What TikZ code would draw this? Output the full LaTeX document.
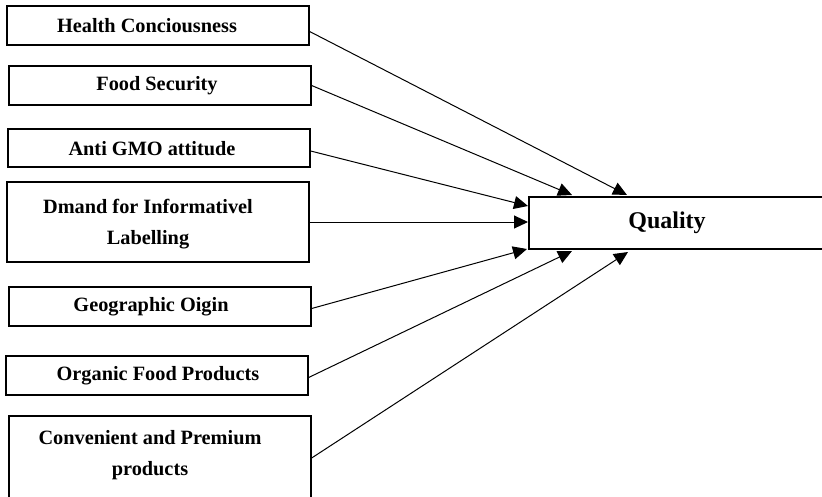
\documentclass[tikz,border=0pt]{standalone}
\usepackage{fontspec}
\setmainfont{Liberation Serif}
\usetikzlibrary{arrows.meta}
\begin{document}
\begin{tikzpicture}[x=1pt,y=-1pt,
  factor/.style={draw, line width=1.3pt, inner sep=0pt, minimum width=302pt},
  ftext/.style={inner sep=0pt, align=center, font=\bfseries\fontsize{20.3}{31}\selectfont},
  target/.style={draw, line width=2pt, inner sep=0pt, minimum width=300pt, minimum height=52pt},
  link/.style={line width=1pt, -{Triangle[length=14pt,width=13pt]}}]
\useasboundingbox (0,0) rectangle (822,496);
\clip (0,0) rectangle (822,496);
\node[factor, minimum height=39pt] (hc) at (158,25.5) {};
\node[ftext] (hct) at (147,26) {Health Conciousness};
\node[factor, minimum height=39pt] (fs) at (160,85.5) {};
\node[ftext] (fst) at (157,86) {Food Security};
\node[factor, minimum height=38pt] (ag) at (159,148) {};
\node[ftext] (agt) at (152,149) {Anti GMO attitude};
\node[factor, minimum height=80pt] (di) at (158,222) {};
\node[ftext] (dit) at (148,224) {Dmand for Informativel\\Labelling};
\node[factor, minimum height=39pt] (go) at (160,306.5) {};
\node[ftext] (got) at (151,307) {Geographic Oigin};
\node[factor, minimum height=39pt] (of) at (157,375.5) {};
\node[ftext] (oft) at (158,376) {Organic Food Products};
\node[factor, minimum height=84pt] (cp) at (160,458) {};
\node[ftext] (cpt) at (150,455) {Convenient and Premium\\products};
\node[target] (q) at (679,223) {};
\node[inner sep=0pt, font=\bfseries\fontsize{24}{28}\selectfont] (ql) at (667,223) {Quality};
\coordinate (t1) at (627,195);
\coordinate (t2) at (572,195);
\coordinate (t3) at (528,206);
\coordinate (t4) at (528,222);
\coordinate (t5) at (527,249);
\coordinate (t6) at (572,251);
\coordinate (t7) at (628,252);
\draw[link] ([yshift=-6pt]hc.east) -- (t1);
\draw[link] (fs.east) -- (t2);
\draw[link] ([yshift=-3pt]ag.east) -- (t3);
\draw[link] (di.east) -- (t4);
\draw[link] ([yshift=-2pt]go.east) -- (t5);
\draw[link] ([yshift=-2pt]of.east) -- (t6);
\draw[link] (cp.east) -- (t7);
\end{tikzpicture}
\end{document}
